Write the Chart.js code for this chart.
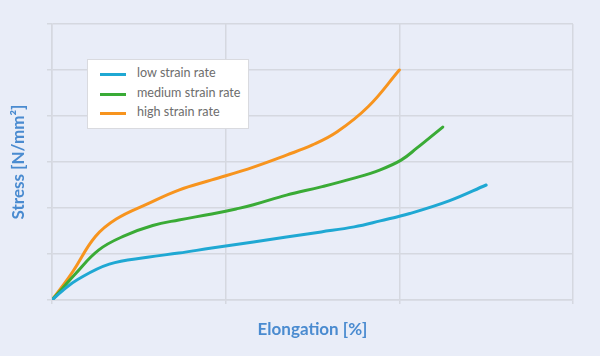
<!DOCTYPE html>
<html>
<head>
<meta charset="utf-8">
<script src="https://cdn.jsdelivr.net/npm/chart.js@4"></script>
<style>
  html, body { margin: 0; padding: 0; background: #e9edf8; }
  #wrap { position: relative; width: 600px; height: 356px; }
  #legend { position: absolute; left: 87px; top: 59px; width: 160px; height: 68px;
    background: #fff; border: 1px solid #d9dadf; font-family: Lato, "Open Sans", sans-serif;
    font-size: 12.6px; color: #6d6d6d; }
  .row { position: absolute; left: 0; height: 20px; }
  .swatch { position: absolute; left: 12px; width: 26px; height: 3px; }
  .lbl { position: absolute; left: 49px; white-space: nowrap; }
</style>
</head>
<body>
<div id="wrap">
  <canvas id="c" width="600" height="356"></canvas>
  <div id="legend"></div>
</div>
<script>
const seriesNames = ["low strain rate", "medium strain rate", "high strain rate"];
const seriesColors = ["#1fa8d3", "#3aab36", "#f7941e"];

const lowX = [0, 0.06, 0.15, 0.33, 0.55, 0.73, 0.92, 1.16, 1.35, 1.55, 1.74, 1.89, 2.06, 2.29, 2.50];
const lowY = [0, 0.20, 0.45, 0.78, 0.93, 1.02, 1.13, 1.26, 1.37, 1.48, 1.59, 1.72, 1.88, 2.16, 2.50];

const medX = [0, 0.06, 0.13, 0.27, 0.42, 0.58, 0.73, 0.92, 1.06, 1.16, 1.35, 1.55, 1.74, 1.89, 2.01, 2.10, 2.25];
const medY = [0, 0.25, 0.55, 1.09, 1.40, 1.62, 1.74, 1.87, 1.98, 2.07, 2.28, 2.46, 2.65, 2.83, 3.04, 3.30, 3.76];

const highX = [0, 0.06, 0.12, 0.25, 0.37, 0.55, 0.73, 0.92, 1.16, 1.35, 1.50, 1.64, 1.82, 2.00];
const highY = [0, 0.30, 0.62, 1.38, 1.76, 2.09, 2.39, 2.61, 2.89, 3.15, 3.37, 3.65, 4.20, 5.00];

const xMin = 0, xMax = 3, xStep = 1;
const yMin = 0, yMax = 6, yStep = 1;
const xTitle = "Elongation [%]";
const yTitle = "Stress [N/mm²]";

function pts(xs, ys) { return xs.map((x, i) => ({ x: x, y: ys[i] })); }
const allX = [lowX, medX, highX];
const allY = [lowY, medY, highY];

const gridColor = "#d5d8e0";
const titleColor = "#4a8bd0";
const titleFont = { family: "Lato, 'Open Sans', sans-serif", size: 17, weight: 'bold' };

const datasets = seriesNames.map((n, i) => ({
  label: n,
  data: pts(allX[i], allY[i]),
  borderColor: seriesColors[i],
  backgroundColor: seriesColors[i],
  borderWidth: 3,
  pointRadius: 0,
  showLine: true,
  fill: false,
  tension: 0.4,
  borderCapStyle: 'round',
  borderJoinStyle: 'round'
}));

new Chart(document.getElementById('c'), {
  type: 'scatter',
  data: { datasets: datasets },
  options: {
    responsive: false,
    animation: false,
    layout: { padding: { top: 24, right: 27, left: 0, bottom: 0 } },
    plugins: { legend: { display: false }, tooltip: { enabled: false } },
    scales: {
      x: {
        min: xMin, max: xMax,
        ticks: { display: false, stepSize: xStep },
        grid: { color: gridColor, lineWidth: 1.5, tickLength: 4 },
        border: { color: gridColor, width: 1.5 },
        title: { display: true, text: xTitle, color: titleColor, font: titleFont,
          padding: { top: 0, bottom: 16 } },
        afterFit: s => { s.height = 56; }
      },
      y: {
        min: yMin, max: yMax,
        ticks: { display: false, stepSize: yStep },
        grid: { color: gridColor, lineWidth: 1.5, tickLength: 5 },
        border: { color: gridColor, width: 1.5 },
        title: { display: true, text: yTitle, color: titleColor, font: titleFont,
          padding: { top: 8, bottom: 0 } },
        afterFit: s => { s.width = 52; }
      }
    }
  }
});

const legend = document.getElementById('legend');
seriesNames.forEach((n, i) => {
  const row = document.createElement('div');
  row.className = 'row';
  row.style.top = (4 + i * 19.5) + 'px';
  const sw = document.createElement('div');
  sw.className = 'swatch';
  sw.style.background = seriesColors[i];
  sw.style.top = '9px';
  const lb = document.createElement('div');
  lb.className = 'lbl';
  lb.style.top = '1px';
  lb.textContent = n;
  row.appendChild(sw); row.appendChild(lb);
  legend.appendChild(row);
});
</script>
</body>
</html>
